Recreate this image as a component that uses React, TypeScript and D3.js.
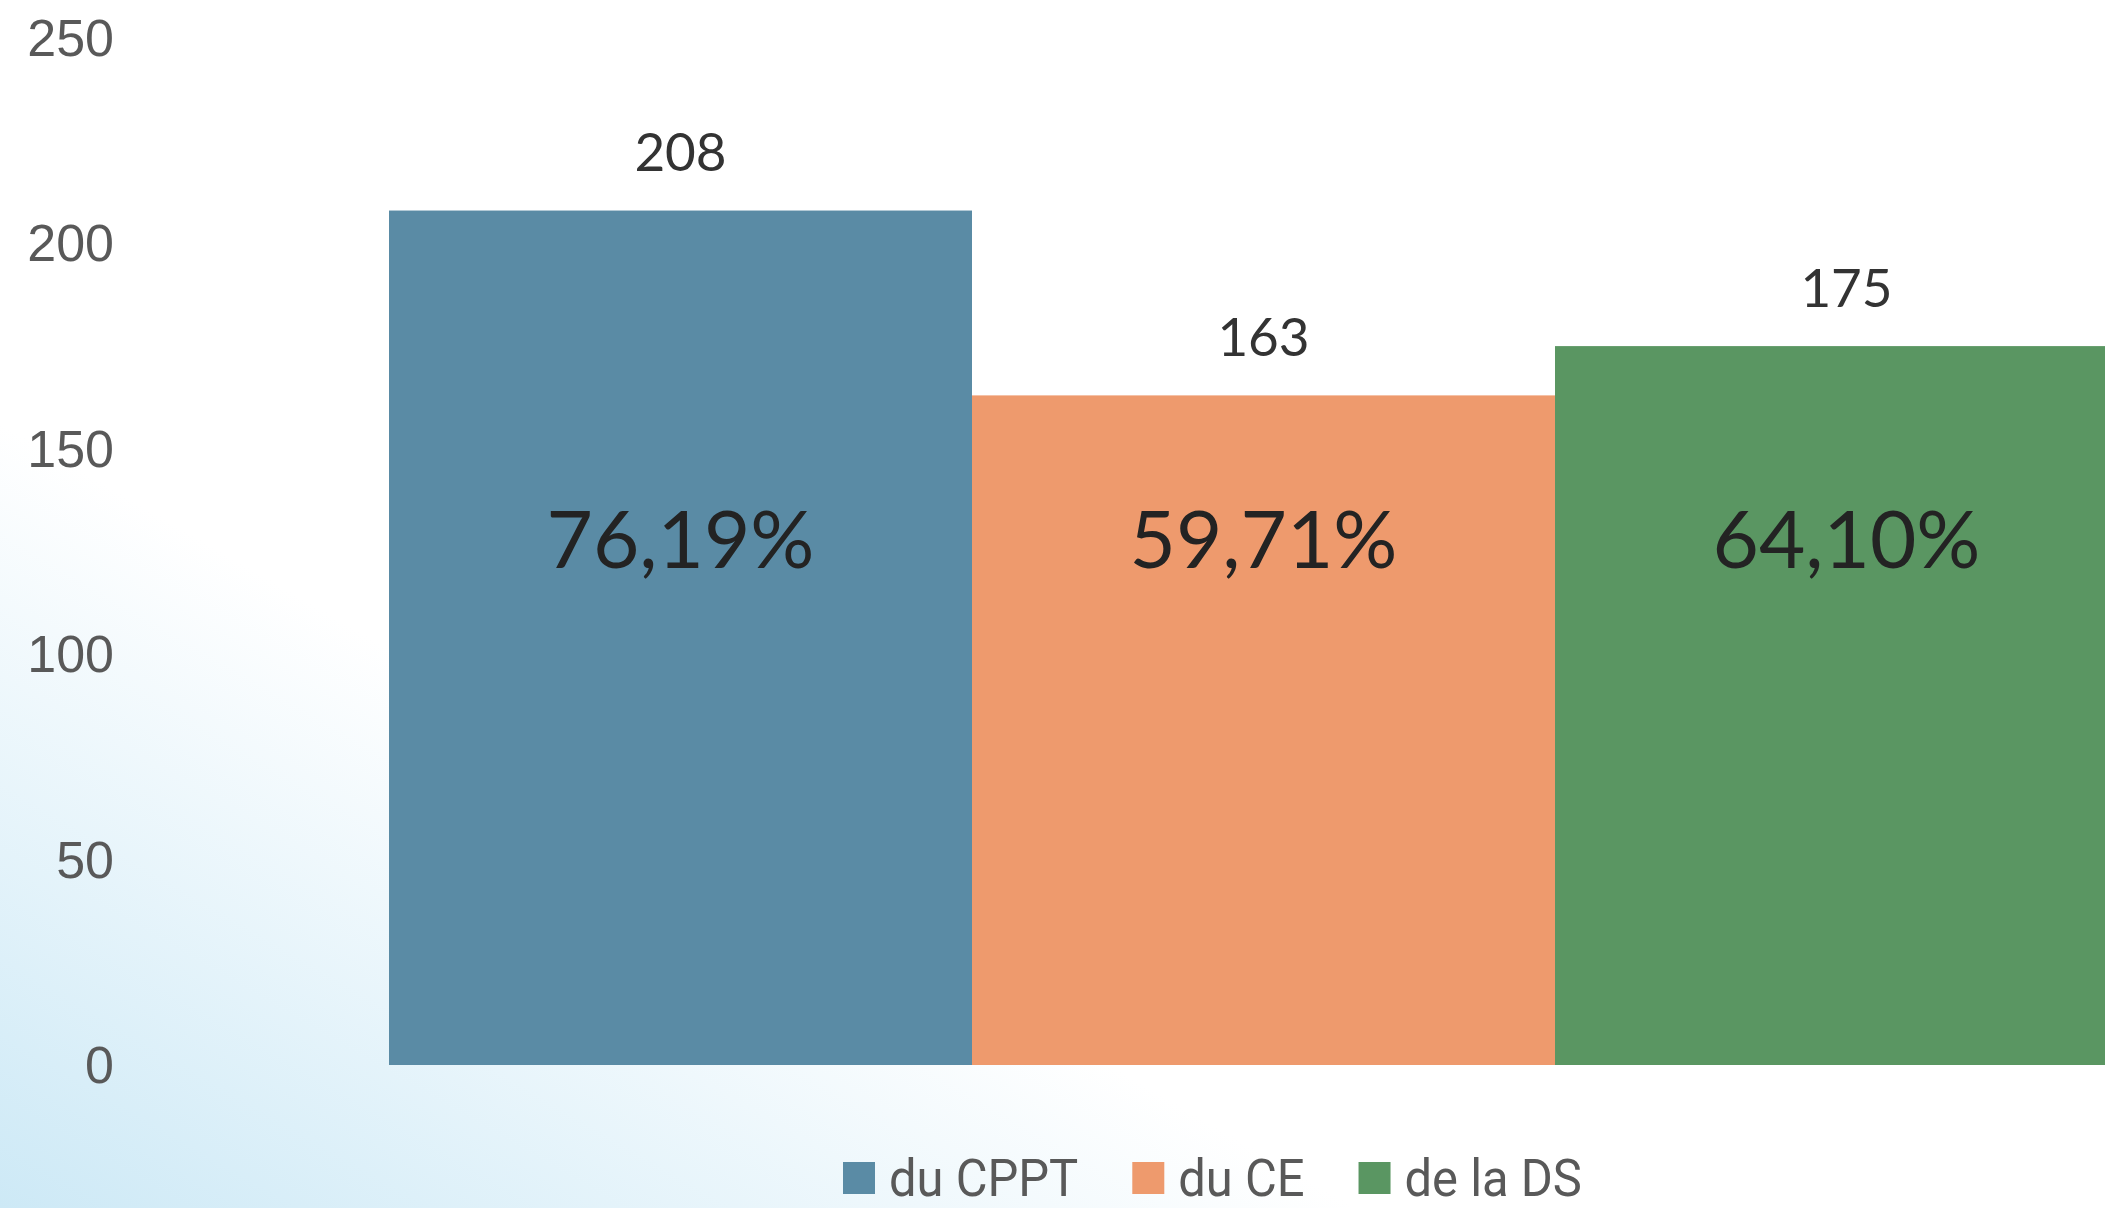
import { useEffect, useRef } from "react";
import * as d3 from "d3";

const categories = ["du CPPT", "du CE", "de la DS"];
const counts = [208, 163, 175];
const percentLabels = ["76,19%", "59,71%", "64,10%"];
const colors = ["#5a8ba5", "#ee9a6d", "#5a9662"];
const yTicks = [0, 50, 100, 150, 200, 250];

const W = 2105;
const H = 1208;

export default function App() {
  const svgRef = useRef<SVGSVGElement>(null);

  useEffect(() => {
    document.body.style.margin = "0";
    const margin = { top: 38, left: 389, bottom: 143 };
    const plotRight = 2138; // third bar runs past the picture edge

    const svg = d3.select(svgRef.current).html(null);

    // soft blue wash in the lower-left corner
    const defs = svg.append("defs");
    const grad = defs.append("linearGradient")
      .attr("id", "wash")
      .attr("gradientUnits", "userSpaceOnUse")
      .attr("x1", 0).attr("y1", H)
      .attr("x2", 340).attr("y2", 620);
    grad.append("stop").attr("offset", "0%").attr("stop-color", "#cde9f6");
    grad.append("stop").attr("offset", "100%").attr("stop-color", "#ffffff");

    svg.append("rect").attr("width", W).attr("height", H).attr("fill", "url(#wash)");

    const x = d3.scaleBand<string>()
      .domain(categories)
      .range([margin.left, plotRight])
      .padding(0);

    const y = d3.scaleLinear()
      .domain([0, 250])
      .range([H - margin.bottom, margin.top]);

    // y tick labels, no axis line
    svg.append("g")
      .selectAll("text")
      .data(yTicks)
      .join("text")
      .attr("x", 114)
      .attr("y", d => y(d))
      .attr("text-anchor", "end")
      .attr("dominant-baseline", "central")
      .style("font-family", "'Liberation Sans', Arial, sans-serif")
      .style("font-size", "52px")
      .style("fill", "#595959")
      .text(d => d);

    svg.append("g")
      .selectAll("rect")
      .data(categories)
      .join("rect")
      .attr("x", d => x(d) as number)
      .attr("y", (_, i) => y(counts[i]))
      .attr("width", x.bandwidth())
      .attr("height", (_, i) => y(0) - y(counts[i]))
      .attr("fill", (_, i) => colors[i]);

    svg.append("g")
      .selectAll("text")
      .data(categories)
      .join("text")
      .attr("x", d => (x(d) as number) + x.bandwidth() / 2)
      .attr("y", (_, i) => y(counts[i]) - 60)
      .attr("text-anchor", "middle")
      .attr("dominant-baseline", "central")
      .style("font-family", "Lato, sans-serif")
      .style("font-size", "53px")
      .style("fill", "#333333")
      .text((_, i) => counts[i]);

    svg.append("g")
      .selectAll("text")
      .data(categories)
      .join("text")
      .attr("x", d => (x(d) as number) + x.bandwidth() / 2)
      .attr("y", 537)
      .attr("text-anchor", "middle")
      .attr("dominant-baseline", "central")
      .style("font-family", "Lato, sans-serif")
      .style("font-size", "80px")
      .style("fill", "#232323")
      .text((_, i) => percentLabels[i]);

    // legend, laid out left to right from measured text widths
    const legend = svg.append("g");
    let cx = 843;
    const ly = 1178;
    categories.forEach((c, i) => {
      legend.append("rect")
        .attr("x", cx).attr("y", ly - 16)
        .attr("width", 32).attr("height", 32)
        .attr("fill", colors[i]);
      const t = legend.append("text")
        .attr("x", cx + 46).attr("y", ly)
        .attr("dominant-baseline", "central")
        .style("font-family", "'Liberation Sans Narrow', 'Roboto', sans-serif")
        .style("font-size", "52px")
        .style("fill", "#595959")
        .text(c);
      // the legend face is a condensed one: squeeze to match
      const tw = (t.node() as SVGTextElement).getComputedTextLength() * 0.94;
      t.attr("textLength", tw).attr("lengthAdjust", "spacingAndGlyphs");
      cx += 46 + tw + 54;
    });
  }, []);

  return (
    <svg
      ref={svgRef}
      width={W}
      height={H}
      style={{ display: "block", position: "absolute", left: 0, top: 0 }}
    />
  );
}
